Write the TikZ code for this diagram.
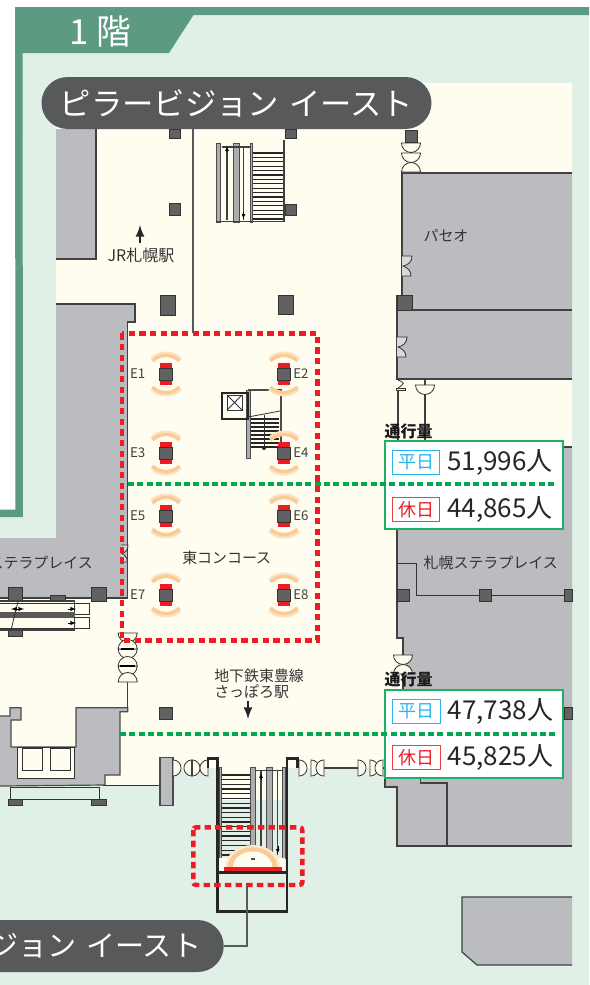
\documentclass[tikz,border=0pt]{standalone}
\usepackage{fontspec}
\setmainfont{Noto Sans CJK JP}
\usetikzlibrary{positioning}
\definecolor{marco}{HTML}{5C9A82}
\definecolor{palido}{HTML}{E1F0E6}
\definecolor{crema}{HTML}{FFFDF0}
\definecolor{muro}{HTML}{BBBCC0}
\definecolor{oscuro}{HTML}{58595B}
\definecolor{rojo}{HTML}{ED1C24}
\definecolor{verde}{HTML}{1FAE66}
\definecolor{trazo}{HTML}{00A650}
\definecolor{celeste}{HTML}{29B6E8}
\definecolor{naranja}{HTML}{FBCB94}
\tikzset{
  linea/.style={draw=black!75,line width=0.9pt},
  fina/.style={draw=black!80,line width=0.6pt},
  pared/.style={fill=muro,draw=black!70,line width=0.9pt},
  pilar/.style={fill=black!62,draw=black!80,line width=0.6pt},
  rail/.style={fill=black!32,draw=black!70,line width=0.4pt},
  pelda/.style={draw=black!85,line width=1pt},
  negro/.style={draw=black!85,line width=1.9pt},
  texto/.style={inner sep=0pt,text=black!80,font=\fontsize{11.2}{13}\selectfont},
  sensor/.style={inner sep=0pt,text=black!75,font=\fontsize{10}{12}\selectfont},
  pastilla/.style={fill=oscuro,text=white,rounded corners=19.5pt,minimum height=39pt,inner ysep=0pt,font=\fontsize{23.5}{26}\selectfont},
  conector/.style={draw=oscuro,line width=1.7pt},
  caja/.style={draw=verde,fill=white,line width=1.5pt},
  tag/.style={fill=white,line width=0.9pt,minimum width=35.5pt,minimum height=18.5pt,inner sep=0pt,font=\fontsize{13.5}{16}\selectfont},
  cifra/.style={inner sep=0pt,text=black!85,font=\fontsize{19.5}{22}\selectfont},
  rayas/.style={draw=rojo,line width=3.3pt,dash pattern=on 4.8pt off 3.2pt},
  flujo/.style={draw=trazo,line width=2.6pt,dash pattern=on 4.5pt off 2.5pt},
  flecha/.style={-latex,line width=2pt,black!85},
  hoja/.pic={\draw[fina,fill=crema] (-9.5,0) arc[start angle=180,end angle=0,radius=9.5] -- cycle;},
  muesca/.pic={\draw[fina,fill=black!15] (0,0) -- (10,0) .. controls (10,6) and (6,9) .. (1,10) .. controls (6,12) and (9,15) .. (9,20) -- (0,20);},
  punto/.pic={
    \draw[draw=naranja!60,line width=4pt] (-14,-14) arc[start angle=225,end angle=315,radius=19.8];
    \draw[draw=naranja!60,line width=4pt] (-14,14) arc[start angle=135,end angle=45,radius=19.8];
    \draw[draw=naranja,line width=2.4pt] (-13.5,-13) arc[start angle=225,end angle=315,radius=19];
    \draw[draw=naranja,line width=2.4pt] (-13.5,13) arc[start angle=135,end angle=45,radius=19];
    \fill[rojo] (-5.7,-11.4) rectangle (5.7,11.4);
    \draw[pilar] (-6.3,-6) rectangle (6.3,6);}
}
\begin{document}
\begin{tikzpicture}[x=0.75pt,y=-0.75pt]
    \useasboundingbox (0,0) rectangle (589,985);
    \clip (0,0) rectangle (589,985);
    \fill[white] (0,0) rectangle (589,985);
    \fill[palido] (22,15) -- (589,15) -- (589,985) -- (0,985) -- (0,516) -- (23,516) -- cycle;
    \fill[marco] (15,7) -- (589,7) -- (589,15) -- (22.5,15) -- (23,517) -- (0,517) -- (0,509.5) -- (15.5,509.5) -- cycle;
    \fill[marco] (22,15) -- (193.5,15) -- (169,53) -- (22,53) -- cycle;
    \node[inner sep=0pt,text=white,font=\fontsize{26}{28}\selectfont] (piso) at (100,32) {1 階};

    \fill[crema] (56,83) -- (572,83) -- (572,540) -- (403,770) -- (385,768) -- (160,768) -- (160,785) -- (0,785) -- (0,538) -- (56,538) -- cycle;

    \fill[muro] (56,129) rectangle (96,259);
    \draw[linea] (96,129) -- (96,259) -- (56,259);
    \fill[muro] (56,304) -- (135,304) -- (135,322) -- (127.5,322) -- (127.5,598) -- (0,598) -- (0,538) -- (56,538) -- cycle;
    \draw[linea] (56,304) -- (135,304) -- (135,322) -- (127.5,322) -- (127.5,598) -- (0,598);
    \fill[muro] (572,173) -- (402,173) -- (402,295) -- (397,295) -- (397,379) -- (572,379) -- cycle;
    \draw[linea] (572,173) -- (402,173) -- (402,295) (397,295) -- (397,379) -- (572,379);
    \draw[linea] (397,310) -- (572,310);
    \fill[muro] (572,447) -- (397,447) -- (397,638) -- (403,638) -- (403,760) -- (385,760) -- (385,787) -- (397,787) -- (397,846) -- (572,846) -- cycle;
    \draw[linea] (572,447) -- (397,447) -- (397,638) -- (403,638) -- (403,760) -- (385,760) -- (385,787) -- (397,787) -- (397,846) -- (572,846);
    \draw[linea] (420.7,770) -- (420.7,783) -- (447,783) -- (447,846);
    \draw[pared] (0,716) -- (10,716) -- (10,707.7) -- (21,707.7) -- (21,720) -- (11,720) -- (11,747) -- (76,747) -- (76,707.7) -- (127.7,707.7) -- (127.7,711.7) -- (120,711.7) -- (120,775) -- (105,775) -- (105,785) -- (0,786);
    \fill[muro] (572,965) -- (477,965) -- (462,952) -- (462,897) -- (572,897) -- cycle;
    \draw[linea] (572,965) -- (477,965) -- (462,952) -- (462,897) -- (572,897);

    \draw[fina] (397,563) -- (416,563) -- (416,595) -- (572,595);
    \draw[linea] (127.7,682) -- (127.7,708);
    \draw[fina] (398,380) .. controls (405,383) .. (398,388);
    \draw[fina,fill=crema] (396.5,388) rectangle (405,390);
    \draw[linea] (398,390) -- (398,441);
    \draw[linea] (425,380) -- (425,441);
    \draw[fina] (103,785) -- (160,785);
    \draw[fina] (10,787) rectangle (99,799.3);

    % pilares
    \foreach \x/\y/\a/\b in {169/129/180/138,285/129/296/138,169/203/180/215,285/204/296/215,160/295/175/315,278/295/293/314,397/295/412/310,405/130/417/142,397/589/409/601,479/589/491/601,564/589/572/601,564/707/572/719,159/707/172/719.5,8/587/22.7/601.7,91.7/587/106.7/601.7,50/595.7/65/601,8/630.7/22.7/636,8/799/22.7/805.7,91.7/799/106.7/805.7}
        \draw[pilar] (\x,\y) rectangle (\a,\b);
    \draw[pared] (160,757.7) rectangle (173,805.3);

    % puertas
    \pic at (411,143) {hoja};
    \pic at (411,153) {hoja};
    \pic[rotate=180] at (411,172) {hoja};
    \pic at (425,385) {hoja};
    \pic at (403,655) {hoja};
    \pic[rotate=180] at (403,674) {hoja};
    \pic at (127.7,633) {hoja};
    \pic at (127.7,649) {hoja};
    \pic[rotate=180] at (127.7,649) {hoja};
    \pic at (127.7,666) {hoja};
    \pic[rotate=180] at (127.7,666) {hoja};
    \pic[rotate=180] at (127.7,682) {hoja};
    \draw[line width=1pt] (121,649) -- (134,649) (120,666) -- (135,666);
    \pic at (402,256) {muesca};
    \pic at (397,337) {muesca};
    \pic[yscale=0.85,xscale=0.7] at (121,545) {muesca};
    \foreach \x/\r in {173/90,192/90,192/-90,208/-90,299/90,311/90,324/-90,358/90,370/90,383/-90}
        \pic[rotate=\r,scale=0.85] at (\x,768) {hoja};
    \draw[linea] (192,760) -- (192,776);
    \draw[linea] (324,768) -- (358,768);
    \draw[linea] (383,768) -- (385,768);

    % escalera norte
    \foreach \y in {153,157.4,...,220}
        \draw[pelda] (252,\y) -- (284,\y);
    \foreach \x/\a in {216/220,233/239,250/252}
        \draw[rail] (\x,143) rectangle (\a,222);
    \draw[linea] (222,147) -- (250,147) (227,147) -- (227,220) (243.5,147) -- (243.5,220) (216,221.5) -- (284,221.5) (284,140) -- (284,222);
    \draw[-latex,line width=0.3pt] (227,152) -- (227,146);
    \draw[-latex,line width=0.3pt] (243.5,212) -- (243.5,219);

    % escalera central
    \foreach \y in {419,423,...,448}
        \draw[pelda] (248,\y) -- (279,\y);
    \draw[rail] (246,390) rectangle (250,458);
    \draw[draw=black!70,line width=2.2pt] (248,390) -- (281,390) -- (281,445);
    \draw[fina] (248,417) -- (280,411);
    \draw[fina] (264,415) -- (264,448);
    \fill[black!85] (264,448) circle (2);
    \draw[negro] (222,393) rectangle (248,419);
    \draw[fina,fill=white] (227,395) rectangle (242,410);
    \draw[fina] (227,395) -- (242,410) (242,395) -- (227,410);

    % escalera sur
    \fill[crema] (217,758) rectangle (287,800);
    \foreach \y in {775,779.7,...,857}
        \draw[pelda] (221,\y) -- (250,\y);
    \foreach \x/\a in {219/221.5,250/255.7,266.7/272.3,282.7/285.7}
        \draw[rail] (\x,767) rectangle (\a,858);
    \draw[linea] (255.7,770.7) -- (283,770.7) (261,771) -- (261,855) (277.7,771) -- (277.7,855);
    \draw[-latex,line width=0.3pt] (261,780) -- (261,773);
    \draw[-latex,line width=0.3pt] (277.7,846) -- (277.7,854);
    \fill[crema] (219,858) rectangle (285,872);
    \fill[naranja!40] (225.2,867) arc[start angle=180,end angle=360,x radius=27.5,y radius=22] -- cycle;
    \fill[naranja] (228,867) arc[start angle=180,end angle=360,x radius=24.7,y radius=19.7] -- cycle;
    \fill[crema] (233,867) arc[start angle=180,end angle=360,x radius=19.7,y radius=15.5] -- cycle;
    \fill[black!70] (250.5,857.5) rectangle (255,860);
    \fill[rojo] (224.3,866.7) rectangle (281.7,871.7);
    \draw[negro] (208,768) -- (208,758.3) -- (217.3,758.3) -- (217.3,911.7) -- (287,911.7) -- (287,758.3) -- (297.3,758.3) -- (297.3,768);
    \draw[negro] (217.3,872.7) -- (287,872.7);

    % escaleras oeste
    \draw[fina,fill=crema] (0,603) -- (89,603) -- (89,614) -- (0,614);
    \draw[fina,fill=crema] (0,617.7) -- (89,617.7) -- (89,628) -- (0,628);
    \draw[linea] (0,601) -- (74.7,601) -- (74.7,630) -- (0,630);
    \fill[black!65] (0,612) rectangle (74.7,618);
    \draw[fina] (18,601.7) -- (11,630);
    \draw[latex-latex,line width=0.5pt] (11,609) -- (24,609);
    \draw[-latex,line width=0.5pt] (68,609) -- (76,609);
    \draw[-latex,line width=0.5pt] (68,623) -- (76,623);

    % ascensores
    \draw[fina,fill=crema] (17.3,747) rectangle (74.7,778.7);
    \draw[fina] (22,748) rectangle (42,770.7);
    \draw[fina] (50.7,748) rectangle (70.7,770.7);

    % puntos
    \foreach \x/\y/\t/\p in {166/374/E1/137.7,284/374/E2/301,166/453/E3/137.7,284/453/E4/301,166/516/E5/137.7,284/516/E6/301,166/595/E7/137.7,284/595/E8/301}{
        \pic at (\x,\y) {punto};
        \node[sensor] (\t) at (\p,\y) {\t};
    }

    \node[texto,font=\fontsize{12}{14}\selectfont] (jr) at (141,255) {JR札幌駅};
    \draw[flecha] (140,243) -- (140,225);
    \node[texto] (paseo) at (446,236) {パセオ};
    \node[texto] (este) at (226.7,557.7) {東コンコース};
    \node[texto,anchor=west] (tozai) at (214,676) {地下鉄東豊線};
    \node[texto,anchor=west] (sapporo) at (214,692) {さっぽろ駅};
    \draw[flecha] (248,701) -- (248,719);
    \node[texto] (stella) at (490.7,563) {札幌ステラプレイス};
    \node[texto,anchor=east] (stellab) at (93,563) {ステラプレイス};

    % cajas
    \node[texto,text=black!90] (tu) at (408.5,431) {\fontsize{12}{14}\selectfont\bfseries 通行量};
    \node[texto,text=black!90] (td) at (408.5,679) {\fontsize{12}{14}\selectfont\bfseries 通行量};
    \draw[caja] (385,441) rectangle (563,529.3);
    \draw[caja] (385,690) rectangle (563,778);
    \node[tag,draw=celeste,text=celeste] (a) at (416,462.5) {平日};
    \node[cifra,right of=a,node distance=63pt] (na) {51,996人};
    \node[tag,draw=rojo!85,text=rojo] (b) at (416,509.5) {休日};
    \node[cifra,right of=b,node distance=63pt] (nb) {44,865人};
    \node[tag,draw=celeste,text=celeste] (c) at (416.5,711.5) {平日};
    \node[cifra,right of=c,node distance=63pt] (nc) {47,738人};
    \node[tag,draw=rojo!85,text=rojo] (d) at (416.5,757.5) {休日};
    \node[cifra,right of=d,node distance=63pt] (nd) {45,825人};

    \draw[flujo] (128,484) -- (557,484);
    \draw[flujo] (120,734) -- (556,734);
    \draw[rayas] (121.7,333.3) rectangle (317.3,640.3);
    \draw[rayas,rounded corners=2pt] (193.3,827.3) rectangle (302.3,885);

    \node[pastilla,text width=270pt,align=center,inner xsep=11.25pt] (pn) at (236.5,103) {ピラービジョン イースト};
    \node[pastilla,font=\fontsize{21.8}{24}\selectfont,text width=274pt,align=right,anchor=east,inner xsep=17pt] (ps) at (224,946) {ジョン イースト};
    \coordinate (ra) at (193,333);
    \coordinate (rb) at (247.3,885);
    \draw[conector] (pn.south -| ra) -- (ra);
    \draw[conector] (ps.east) -| (rb);
\end{tikzpicture}
\end{document}
